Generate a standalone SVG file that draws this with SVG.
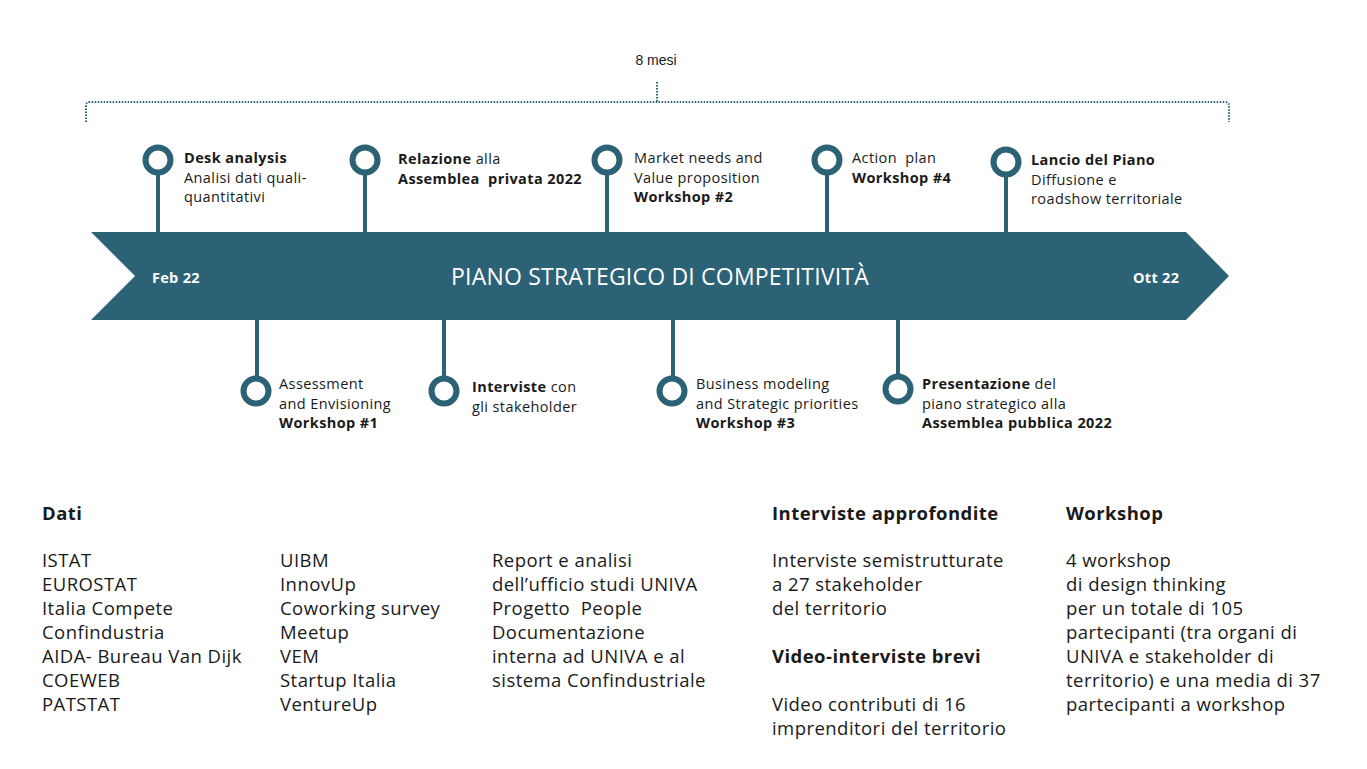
<svg xmlns="http://www.w3.org/2000/svg" width="1367" height="769" viewBox="0 0 1367 769">
<style>
.t{font-family:"Open Sans","Liberation Sans",sans-serif;fill:#1a1a1a}
.s{font-size:14.5px;letter-spacing:0.4px}
.b{font-weight:700}
.big{font-size:18.5px;letter-spacing:0.45px}
.ring{fill:#fff;stroke:#2c6275;stroke-width:6}
.stem{stroke:#2c6275;stroke-width:4}
.dot{fill:none;stroke:#2c6275;stroke-width:2;stroke-dasharray:1.5 1.5}
.w{font-family:"Open Sans","Liberation Sans",sans-serif;fill:#fff}
</style>
<rect width="1367" height="769" fill="#fff"/>
<g id="span">
<path class="dot" d="M86,122 V106 Q86,102 90,102 H1225 Q1229,102 1229,106 V122"/>
<path class="dot" d="M657,82 V102"/>
<text x="656" y="65" text-anchor="middle" style="font-family:'Liberation Sans',Arial,sans-serif;font-size:14px;fill:#1a1a1a">8 mesi</text>
</g>
<g id="connectors">
<line class="stem" x1="158" y1="172" x2="158" y2="232"/>
<line class="stem" x1="365" y1="172" x2="365" y2="232"/>
<line class="stem" x1="607" y1="172" x2="607" y2="232"/>
<line class="stem" x1="827" y1="172" x2="827" y2="232"/>
<line class="stem" x1="1006" y1="174" x2="1006" y2="232"/>
<line class="stem" x1="257" y1="320" x2="257" y2="379"/>
<line class="stem" x1="444" y1="320" x2="444" y2="379"/>
<line class="stem" x1="673" y1="320" x2="673" y2="379"/>
<line class="stem" x1="898" y1="320" x2="898" y2="377"/>
</g>
<g id="timeline">
<polygon points="91,232 1186,232 1229,276 1186,320 91,320 135,276" fill="#2c6275"/>
<text x="152" y="283" class="w b" style="font-size:14.5px;letter-spacing:0.3px">Feb 22</text>
<text x="1133" y="283" class="w b" style="font-size:14.5px;letter-spacing:0.3px">Ott 22</text>
<text x="660" y="285" text-anchor="middle" class="w" style="font-size:23px;letter-spacing:0.2px">PIANO STRATEGICO DI COMPETITIVITÀ</text>
</g>
<g id="m-desk">
<circle class="ring" cx="158" cy="160" r="12.5"/>
<text class="t s" x="184" y="163"><tspan class="b">Desk analysis</tspan><tspan x="184" dy="19.5">Analisi dati quali-</tspan><tspan x="184" dy="19.5">quantitativi</tspan></text>
</g>
<g id="m-relazione">
<circle class="ring" cx="365" cy="160" r="12.5"/>
<text class="t s" x="398" y="164"><tspan class="b">Relazione</tspan> alla<tspan x="398" dy="19.5" class="b">Assemblea &#160;privata 2022</tspan></text>
</g>
<g id="m-market">
<circle class="ring" cx="607" cy="160" r="12.5"/>
<text class="t s" x="634" y="163">Market needs and<tspan x="634" dy="19.5">Value proposition</tspan><tspan x="634" dy="19.5" class="b">Workshop #2</tspan></text>
</g>
<g id="m-action">
<circle class="ring" cx="827" cy="160" r="12.5"/>
<text class="t s" x="852" y="163">Action &#160;plan<tspan x="852" dy="19.5" class="b">Workshop #4</tspan></text>
</g>
<g id="m-lancio">
<circle class="ring" cx="1006" cy="162" r="12.5"/>
<text class="t s" x="1031" y="165"><tspan class="b">Lancio del Piano</tspan><tspan x="1031" dy="19.5">Diffusione e</tspan><tspan x="1031" dy="19.5">roadshow territoriale</tspan></text>
</g>
<g id="m-assessment">
<circle class="ring" cx="256" cy="391" r="12.5"/>
<text class="t s" x="279" y="389">Assessment<tspan x="279" dy="19.5">and Envisioning</tspan><tspan x="279" dy="19.5" class="b">Workshop #1</tspan></text>
</g>
<g id="m-interviste">
<circle class="ring" cx="444" cy="391" r="12.5"/>
<text class="t s" x="472" y="392"><tspan class="b">Interviste</tspan> con<tspan x="472" dy="19.5">gli stakeholder</tspan></text>
</g>
<g id="m-business">
<circle class="ring" cx="672" cy="391" r="12.5"/>
<text class="t s" x="696" y="389">Business modeling<tspan x="696" dy="19.5">and Strategic priorities</tspan><tspan x="696" dy="19.5" class="b">Workshop #3</tspan></text>
</g>
<g id="m-presentazione">
<circle class="ring" cx="898" cy="389" r="12.5"/>
<text class="t s" x="922" y="389"><tspan class="b">Presentazione</tspan> del<tspan x="922" dy="19.5">piano strategico alla</tspan><tspan x="922" dy="19.5" class="b">Assemblea pubblica 2022</tspan></text>
</g>
<g id="dati">
<text class="t big b" x="42" y="520">Dati</text>
<text class="t big" x="42" y="567">ISTAT<tspan x="42" dy="24">EUROSTAT</tspan><tspan x="42" dy="24">Italia Compete</tspan><tspan x="42" dy="24">Confindustria</tspan><tspan x="42" dy="24">AIDA- Bureau Van Dijk</tspan><tspan x="42" dy="24">COEWEB</tspan><tspan x="42" dy="24">PATSTAT</tspan></text>
<text class="t big" x="280" y="567">UIBM<tspan x="280" dy="24">InnovUp</tspan><tspan x="280" dy="24">Coworking survey</tspan><tspan x="280" dy="24">Meetup</tspan><tspan x="280" dy="24">VEM</tspan><tspan x="280" dy="24">Startup Italia</tspan><tspan x="280" dy="24">VentureUp</tspan></text>
<text class="t big" x="492" y="567">Report e analisi<tspan x="492" dy="24">dell’ufficio studi UNIVA</tspan><tspan x="492" dy="24">Progetto &#160;People</tspan><tspan x="492" dy="24">Documentazione</tspan><tspan x="492" dy="24">interna ad UNIVA e al</tspan><tspan x="492" dy="24">sistema Confindustriale</tspan></text>
</g>
<g id="interviste-info">
<text class="t big b" x="772" y="520">Interviste approfondite</text>
<text class="t big" x="772" y="567">Interviste semistrutturate<tspan x="772" dy="24">a 27 stakeholder</tspan><tspan x="772" dy="24">del territorio</tspan></text>
<text class="t big b" x="772" y="663">Video-interviste brevi</text>
<text class="t big" x="772" y="711">Video contributi di 16<tspan x="772" dy="24">imprenditori del territorio</tspan></text>
</g>
<g id="workshop-info">
<text class="t big b" x="1066" y="520">Workshop</text>
<text class="t big" x="1066" y="567">4 workshop<tspan x="1066" dy="24">di design thinking</tspan><tspan x="1066" dy="24">per un totale di 105</tspan><tspan x="1066" dy="24">partecipanti (tra organi di</tspan><tspan x="1066" dy="24">UNIVA e stakeholder di</tspan><tspan x="1066" dy="24">territorio) e una media di 37</tspan><tspan x="1066" dy="24">partecipanti a workshop</tspan></text>
</g>
</svg>
